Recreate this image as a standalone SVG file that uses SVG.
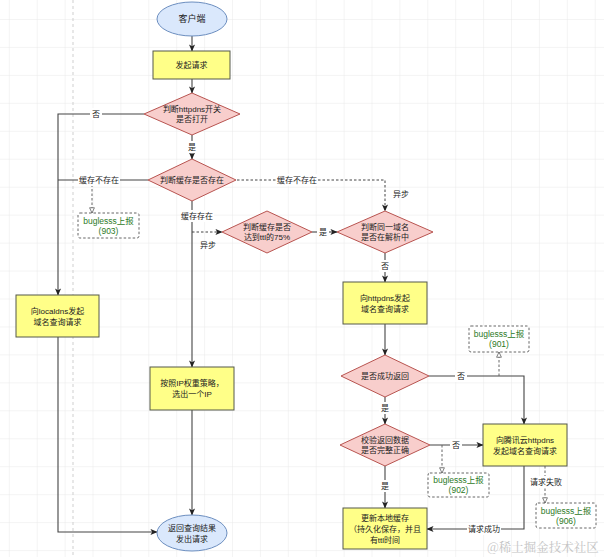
<svg xmlns="http://www.w3.org/2000/svg" width="604" height="557" viewBox="0 0 604 557">
<defs>
<pattern id="grid" x="8.8" y="19" width="27.9" height="27.95" patternUnits="userSpaceOnUse">
<path d="M0,0 H27.9 M0,0 V27.95" fill="none" stroke="#e9e9e9" stroke-width="1"/>
</pattern>
<marker id="arr" viewBox="0 0 8 8" refX="7.5" refY="4" markerWidth="7" markerHeight="7" markerUnits="userSpaceOnUse" orient="auto">
<path d="M0,0.5 L8,4 L0,7.5 L2,4 z" fill="#222"/>
</marker>
<marker id="open" viewBox="0 0 8 8" refX="7.5" refY="4" markerWidth="6" markerHeight="6" markerUnits="userSpaceOnUse" orient="auto">
<path d="M0.5,0.8 L7.5,4 L0.5,7.2 z" fill="#fff" stroke="#555" stroke-width="1"/>
</marker>
<style>
text{font-family:"Liberation Sans","Noto Sans CJK SC",sans-serif;font-size:8px;fill:#222;text-anchor:middle;dominant-baseline:central}
text.big{font-size:9px}
.term{fill:#dae8fc;stroke:#6c8ebf;stroke-width:1}
.proc{fill:#ffff88;stroke:#55584a;stroke-width:1}
.dec{fill:#f8cecc;stroke:#b85450;stroke-width:1}
.bug{fill:#fff;stroke:#666;stroke-width:1;stroke-dasharray:2.5 2}
text.g{fill:#2d7a1f;font-size:8.5px}
text.wm{font-family:"Noto Serif CJK SC","Noto Sans CJK SC",serif;font-size:12.5px;fill:#c4c4c4}
.ln{fill:none;stroke:#444;stroke-width:1.1}
.ln.a{marker-end:url(#arr)}
.ds{fill:none;stroke:#444;stroke-width:1;stroke-dasharray:2.5 2}
.ds.o{stroke:#666;marker-end:url(#open)}
.ds.a{marker-end:url(#arr)}
.lbg{fill:#fff}
</style>
</defs>
<rect width="604" height="557" fill="#fff"/>
<rect width="604" height="557" fill="url(#grid)"/>
<line x1="73" y1="0" x2="73" y2="557" stroke="#cfcfcf" stroke-width="1" stroke-dasharray="3 3"/>

<g id="connectors">
<path class="ln a" d="M192,36 V51"/>
<path class="ln a" d="M192,79 V93"/>
<path class="ln a" d="M192,135 V159"/>
<path class="ln a" d="M144,114 H58 V295"/>
<path class="ln" d="M148,180 H58"/>
<path class="ds o" d="M92,180 V213"/>
<path class="ln a" d="M192,201 V367"/>
<path class="ds a" d="M192,232 H222"/>
<path class="ln a" d="M312,232 H337"/>
<path class="ds a" d="M237,180 H385 V211"/>
<path class="ln a" d="M385,253 V282"/>
<path class="ln a" d="M385,324 V355"/>
<path class="ln a" d="M429,376 H524 V424"/>
<path class="ds o" d="M499,376 V352"/>
<path class="ln a" d="M385,397 V424"/>
<path class="ln a" d="M430,445 H483"/>
<path class="ds o" d="M442,445 V473"/>
<path class="ln a" d="M385,466 V508"/>
<path class="ln a" d="M524,466 V529 H427"/>
<path class="ds o" d="M545,466 V503"/>
<path class="ln a" d="M58,337 V532 H157"/>
<path class="ln a" d="M192,410 V515"/>

<g id="labels">
<rect class="lbg" x="90" y="108" width="12" height="12"/><text x="96" y="114">否</text>
<rect class="lbg" x="186" y="141" width="12" height="12"/><text x="192" y="147">是</text>
<rect class="lbg" x="78" y="174" width="42" height="12"/><text x="99" y="180">缓存不存在</text>
<rect class="lbg" x="276" y="174" width="42" height="12"/><text x="297" y="180">缓存不存在</text>
<rect class="lbg" x="181" y="210" width="33" height="12"/><text x="197" y="216">缓存存在</text>
<text x="208" y="245">异步</text>
<rect class="lbg" x="317" y="226" width="12" height="12"/><text x="323" y="232">是</text>
<text x="401" y="194">异步</text>
<rect class="lbg" x="379" y="260" width="12" height="12"/><text x="385" y="266">否</text>
<rect class="lbg" x="455" y="370" width="12" height="12"/><text x="461" y="376">否</text>
<rect class="lbg" x="379" y="402" width="12" height="12"/><text x="385" y="408">是</text>
<rect class="lbg" x="450" y="439" width="12" height="12"/><text x="456" y="445">否</text>
<rect class="lbg" x="379" y="480" width="12" height="12"/><text x="385" y="486">是</text>
<rect class="lbg" x="467" y="523" width="34" height="12"/><text x="484" y="529">请求成功</text>
<rect class="lbg" x="529" y="476" width="34" height="12"/><text x="546" y="482">请求失败</text>
</g>
</g>

<g id="n-client"><ellipse class="term" cx="192" cy="19" rx="35" ry="17"/><text class="big" x="192" y="19">客户端</text></g>
<g id="n-start"><rect class="proc" x="153" y="51" width="77" height="28"/><text x="191.5" y="65">发起请求</text></g>
<g id="n-switch"><polygon class="dec" points="192,93 240,114 192,135 144,114"/><text x="192" y="109">判断httpdns开关</text><text x="192" y="119">是否打开</text></g>
<g id="n-cache"><polygon class="dec" points="192,159 236,180 192,201 148,180"/><text x="192" y="180">判断缓存是否存在</text></g>
<g id="n-b903"><rect class="bug" x="78" y="213" width="61" height="25" rx="2"/><text x="108.5" y="221" class="g">buglesss上报</text><text x="108.5" y="231" class="g">(903)</text></g>
<g id="n-local"><rect class="proc" x="16" y="295" width="83" height="42"/><text x="57.5" y="311">向localdns发起</text><text x="57.5" y="322">域名查询请求</text></g>
<g id="n-ttl"><polygon class="dec" points="267,211 312,232 267,253 222,232"/><text x="267" y="227">判断缓存是否</text><text x="267" y="237">达到ttl的75%</text></g>
<g id="n-resolving"><polygon class="dec" points="385,211 433,232 385,253 337,232"/><text x="385" y="227">判断同一域名</text><text x="385" y="237">是否在解析中</text></g>
<g id="n-httpdns"><rect class="proc" x="343" y="282" width="84" height="42"/><text x="385" y="298">向httpdns发起</text><text x="385" y="309">域名查询请求</text></g>
<g id="n-b901"><rect class="bug" x="469" y="326" width="60" height="26" rx="2"/><text x="499" y="334" class="g">buglesss上报</text><text x="499" y="344" class="g">(901)</text></g>
<g id="n-ok"><polygon class="dec" points="385,355 429,376 385,397 341,376"/><text x="385" y="376">是否成功返回</text></g>
<g id="n-ipw"><rect class="proc" x="150" y="367" width="84" height="43"/><text x="192" y="383">按照IP权重策略，</text><text x="192" y="394">选出一个IP</text></g>
<g id="n-verify"><polygon class="dec" points="385,424 430,445 385,466 340,445"/><text x="385" y="440">校验返回数据</text><text x="385" y="450">是否完整正确</text></g>
<g id="n-tencent"><rect class="proc" x="483" y="424" width="84" height="42"/><text x="525" y="440">向腾讯云httpdns</text><text x="525" y="451">发起域名查询请求</text></g>
<g id="n-b902"><rect class="bug" x="428" y="473" width="61" height="24" rx="2"/><text x="458.5" y="480" class="g">buglesss上报</text><text x="458.5" y="490" class="g">(902)</text></g>
<g id="n-b906"><rect class="bug" x="536" y="503" width="60" height="25" rx="2"/><text x="566" y="511" class="g">buglesss上报</text><text x="566" y="521" class="g">(906)</text></g>
<g id="n-update"><rect class="proc" x="343" y="508" width="84" height="41"/><text x="385" y="518">更新本地缓存</text><text x="385" y="529">（持久化保存，并且</text><text x="385" y="540">有ttl时间</text></g>
<g id="n-return"><ellipse class="term" cx="192" cy="533" rx="35" ry="18"/><text x="192" y="528">返回查询结果</text><text x="192" y="539">发出请求</text></g>

<text class="wm" x="543" y="547">@稀土掘金技术社区</text>
</svg>
